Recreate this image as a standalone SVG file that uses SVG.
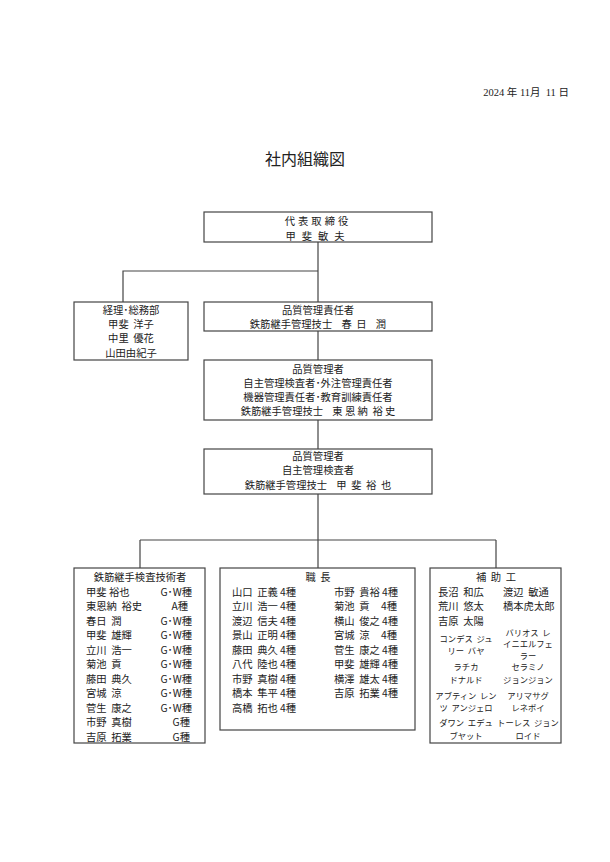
<svg xmlns="http://www.w3.org/2000/svg" width="610" height="862" viewBox="0 0 610 862" xml:space="preserve">
<style>
text{font-family:"Noto Sans CJK JP","Liberation Sans",sans-serif;font-size:10.3px;fill:#222;dominant-baseline:central;white-space:pre}
.c{text-anchor:middle}
.s{font-size:8.3px}
rect{fill:#fff;stroke:#444;stroke-width:1.2}
#connectors path{fill:none;stroke:#444;stroke-width:1.2}
</style>
<rect x="0" y="0" width="610" height="862" style="fill:#fff;stroke:none"/>
<text x="569" y="92" style="text-anchor:end;font-size:10.5px;font-family:'Liberation Serif','Noto Sans CJK JP',serif">2024 年 11月  11 日</text>
<text x="305" y="158" class="c" style="font-size:16px">社内組織図</text>
<g id="connectors">
<path d="M318 242V302M318 271H123V302M318 331V360M318 420V449M318 494V568M140 540H496M140 540V568M496 540V568"/>
</g>
<g id="n1"><rect x="204" y="212" width="228" height="30"/>
<text x="318" y="220" class="c" letter-spacing="3">代表取締役</text>
<text x="318" y="235" class="c" letter-spacing="6">甲斐敏夫</text></g>
<g id="n2"><rect x="74" y="302" width="114" height="58"/>
<text x="131" y="309" class="c">経理･総務部</text>
<text x="131" y="323" class="c">甲斐  洋子</text>
<text x="131" y="337" class="c">中里  優花</text>
<text x="131" y="352" class="c">山田由紀子</text></g>
<g id="n3"><rect x="204" y="302" width="228" height="29"/>
<text x="318" y="309" class="c">品質管理責任者</text>
<text x="318" y="323" class="c">鉄筋継手管理技士    春  日    潤</text></g>
<g id="n4"><rect x="204" y="360" width="228" height="60"/>
<text x="318" y="368" class="c">品質管理者</text>
<text x="318" y="382" class="c">自主管理検査者･外注管理責任者</text>
<text x="318" y="396" class="c">機器管理責任者･教育訓練責任者</text>
<text x="318" y="410" class="c">鉄筋継手管理技士    東 恩 納  裕 史</text></g>
<g id="n5"><rect x="204" y="449" width="228" height="45"/>
<text x="318" y="455" class="c">品質管理者</text>
<text x="318" y="469" class="c">自主管理検査者</text>
<text x="318" y="484" class="c">鉄筋継手管理技士    甲  斐  裕  也</text></g>
<g id="n6"><rect x="74" y="568" width="131" height="175"/>
<text x="140" y="576" class="c">鉄筋継手検査技術者</text>
<g>
<text x="86" y="591">甲斐 裕也</text><text x="192" y="591" style="text-anchor:end">G･W種</text>
<text x="86" y="605">東恩納  裕史</text><text x="188" y="605" style="text-anchor:end">A種</text>
<text x="86" y="620">春日  潤</text><text x="192" y="620" style="text-anchor:end">G･W種</text>
<text x="86" y="634">甲斐  雄輝</text><text x="192" y="634" style="text-anchor:end">G･W種</text>
<text x="86" y="649">立川  浩一</text><text x="192" y="649" style="text-anchor:end">G･W種</text>
<text x="86" y="663">菊池  貢</text><text x="192" y="663" style="text-anchor:end">G･W種</text>
<text x="86" y="678">藤田  典久</text><text x="192" y="678" style="text-anchor:end">G･W種</text>
<text x="86" y="692">宮城  涼</text><text x="192" y="692" style="text-anchor:end">G･W種</text>
<text x="86" y="707">菅生  康之</text><text x="192" y="707" style="text-anchor:end">G･W種</text>
<text x="86" y="721">市野  真樹</text><text x="190" y="721" style="text-anchor:end">G種</text>
<text x="86" y="736">吉原  拓業</text><text x="190" y="736" style="text-anchor:end">G種</text>
</g></g>
<g id="n7"><rect x="220" y="568" width="195" height="162"/>
<text x="318" y="576" class="c">職  長</text>
<text x="232" y="591">山口  正義 4種</text><text x="334" y="591">市野  貴裕 4種</text>
<text x="232" y="605">立川  浩一 4種</text><text x="334" y="605">菊池  貢     4種</text>
<text x="232" y="620">渡辺  信夫 4種</text><text x="334" y="620">横山  俊之 4種</text>
<text x="232" y="634">景山  正明 4種</text><text x="334" y="634">宮城  涼     4種</text>
<text x="232" y="649">藤田  典久 4種</text><text x="334" y="649">菅生  康之 4種</text>
<text x="232" y="663">八代  陸也 4種</text><text x="334" y="663">甲斐  雄輝 4種</text>
<text x="232" y="678">市野  真樹 4種</text><text x="334" y="678">横澤  雄太 4種</text>
<text x="232" y="692">橋本  隼平 4種</text><text x="334" y="692">吉原  拓業 4種</text>
<text x="232" y="707">高橋  拓也 4種</text>
</g>
<g id="n8"><rect x="430" y="568" width="131" height="175"/>
<text x="496" y="576" class="c">補  助  工</text>
<text x="438" y="591">長沼  和広</text><text x="503" y="591">渡辺  敏通</text>
<text x="438" y="605">荒川  悠太</text><text x="503" y="605">橋本虎太郎</text>
<text x="438" y="620">吉原  太陽</text>
<text x="466" y="638" class="c s">コンデス  ジュ</text><text x="466" y="650" class="c s">リー  バヤ</text>
<text x="528" y="632" class="c s">バリオス  レ</text><text x="528" y="643" class="c s">イニエルフェ</text><text x="528" y="655" class="c s">ラー</text>
<text x="466" y="666" class="c s">ラチカ</text><text x="466" y="679" class="c s">ドナルド</text>
<text x="528" y="666" class="c s">セラミノ</text><text x="528" y="679" class="c s">ジョンジョン</text>
<text x="466" y="695" class="c s">アブティン  レン</text><text x="466" y="707" class="c s">ツ  アンジェロ</text>
<text x="528" y="695" class="c s">アリマサグ</text><text x="528" y="707" class="c s">レネボイ</text>
<text x="466" y="722" class="c s">ダワン  エデュ</text><text x="466" y="735" class="c s">ブヤット</text>
<text x="528" y="722" class="c s">トーレス  ジョン</text><text x="528" y="735" class="c s">ロイド</text>
</g>
</svg>
